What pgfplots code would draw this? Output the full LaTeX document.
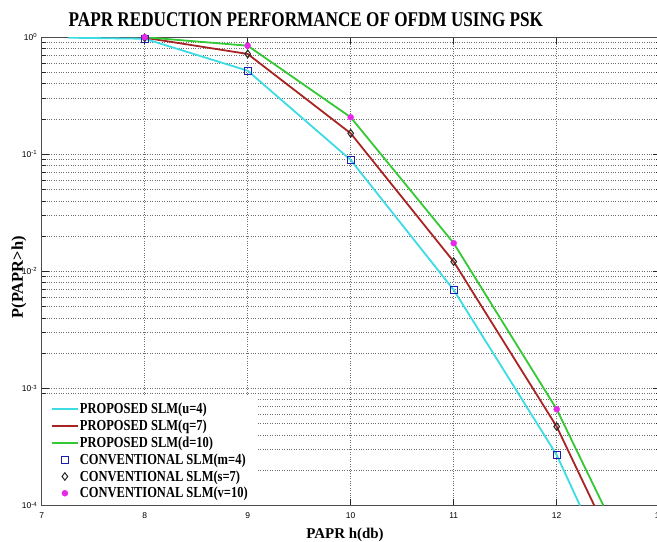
\documentclass[border=0pt]{standalone}
\usepackage{fontspec}
\setmainfont{Liberation Serif}
\setsansfont{Liberation Sans}
\newfontfamily\narrowserif{Liberation Serif}[FakeStretch=0.82]
\usepackage{pgfplots}
\pgfplotsset{compat=1.18}

\definecolor{cyanline}{RGB}{60,220,228}
\definecolor{redline}{RGB}{168,36,36}
\definecolor{greenline}{RGB}{52,200,52}
\definecolor{sqblue}{RGB}{28,28,175}
\definecolor{magmark}{RGB}{232,40,232}
\definecolor{gridgray}{RGB}{110,110,110}

\pgfplotsset{
    seg legend/.style={legend image code/.code={\draw[##1, line width=2bp] (0bp,0bp) -- (26bp,0bp);}},
    dot legend/.style={legend image code/.code={\path[draw=none,fill=none] (0bp,-0.1bp) rectangle (26bp,0.1bp); \draw[##1] plot coordinates {(13bp,0bp)};}},
}

\begin{document}
\begin{tikzpicture}
\begin{axis}[
    name=ax,
    scale only axis,
    width=618bp, height=468.3bp,
    ymode=log,
    xmin=7, xmax=13, ymin=1e-4, ymax=1,
    xtick={7,8,9,10,11,12,13},
    ytick={1e-4,1e-3,1e-2,1e-1,1},
    yticklabels={10\textsuperscript{-4},10\textsuperscript{-3},10\textsuperscript{-2},10\textsuperscript{-1},10\textsuperscript{0}},
    /pgf/number format/assume math mode=true,
    tick label style={font=\fontsize{8.5}{9}\sffamily},
    xticklabel style={anchor=center, yshift=-10.5bp},
    yticklabel style={anchor=east, xshift=-1bp},
    tick align=inside,
    major tick length=7bp,
    minor tick length=4bp,
    tick style={black!85, line width=0.6bp},
    axis line style={black!70, line width=1bp},
    ymajorgrids, yminorgrids, xmajorgrids,
    major grid style={dash pattern=on 1bp off 1.4bp, gridgray, line width=0.6bp},
    minor grid style={dash pattern=on 1bp off 1.4bp, gridgray, line width=0.6bp},
    title={\narrowserif\bfseries\fontsize{21}{21}\selectfont PAPR REDUCTION PERFORMANCE OF OFDM USING PSK},
    title style={at={(axis description cs:0.4275,1)}, anchor=center, yshift=12bp},
    xlabel={\bfseries\fontsize{15}{15}\selectfont PAPR h(db)},
    xlabel style={at={(axis description cs:0.4908,0)}, anchor=center, yshift=-29bp},
    ylabel={\bfseries\fontsize{16.5}{16.5}\selectfont P(PAPR>h)},
    ylabel style={at={(axis description cs:-0.0367,0.487)}, anchor=center},
    legend cell align=left,
    legend style={at={(0,0)}, anchor=south west, draw=none, fill=white,
        font=\narrowserif\bfseries\fontsize{15.3}{16}\selectfont,
        inner xsep=9bp, inner ysep=5bp, row sep=2.7bp,
        nodes={inner sep=1bp}},
    seg legend,
]
\addplot[cyanline, line width=1.8bp] coordinates {
    (7.26,0.99) (8,0.97) (9,0.517) (10,0.0894) (11,0.00694) (12,2.7e-4) (12.226,1e-4)};
\addlegendentry{PROPOSED SLM(u=4)}
\addplot[redline, line width=1.8bp] coordinates {
    (8,0.99) (9,0.719) (10,0.151) (11,0.0121) (12,4.72e-4) (12.365,1e-4)};
\addlegendentry{PROPOSED SLM(q=7)}
\addplot[greenline, line width=1.8bp] coordinates {
    (8,1.0) (9,0.846) (10,0.207) (11,0.0174) (12,6.64e-4) (12.453,1e-4)};
\addlegendentry{PROPOSED SLM(d=10)}
\addplot[only marks, mark=square, mark size=3.5bp, sqblue, line width=1.3bp, dot legend]
    coordinates {(8,0.97) (9,0.517) (10,0.0894) (11,0.00694) (12,2.7e-4)};
\addlegendentry{CONVENTIONAL SLM(m=4)}
\addplot[only marks, mark=diamond, mark size=3.8bp, black!85, line width=1bp, dot legend]
    coordinates {(8,0.99) (9,0.719) (10,0.151) (11,0.0121) (12,4.72e-4)};
\addlegendentry{CONVENTIONAL SLM(s=7)}
\addplot[only marks, mark=*, mark size=3bp, magmark, dot legend]
    coordinates {(8,1.0) (9,0.846) (10,0.207) (11,0.0174) (12,6.64e-4)};
\addlegendentry{CONVENTIONAL SLM(v=10)}
\coordinate (bl) at (rel axis cs:0,0);
\coordinate (tr) at (rel axis cs:1,1);
\end{axis}
\pgfresetboundingbox
\path[use as bounding box] ([shift={(-41.7bp,-36.5bp)}]bl) rectangle ([shift={(-2.7bp,37.2bp)}]tr);
\end{tikzpicture}
\end{document}
